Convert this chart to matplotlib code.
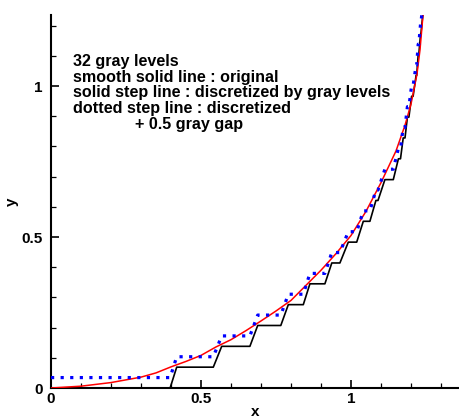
import numpy as np
import matplotlib
matplotlib.use("Agg")
import matplotlib.pyplot as plt
from matplotlib.ticker import MultipleLocator

plt.rcParams['font.family'] = ['Liberation Sans', 'DejaVu Sans']
plt.rcParams['font.weight'] = 'bold'

# original smooth curve
curve_x = [0.0, 0.1, 0.2, 0.3, 0.35, 0.4, 0.45, 0.5, 0.55, 0.6, 0.65, 0.7,
           0.75, 0.8, 0.85, 0.9, 0.95, 1.0, 1.05, 1.1, 1.15, 1.18, 1.2,
           1.22, 1.23, 1.24]
curve_y = [0.0, 0.006, 0.018, 0.036, 0.05, 0.07, 0.088, 0.108, 0.136, 0.16,
           0.19, 0.222, 0.255, 0.29, 0.34, 0.39, 0.445, 0.505, 0.585, 0.68,
           0.785, 0.87, 0.94, 1.04, 1.12, 1.235]

# gray level step and where each step k -> k+1 starts / ends
gray_step = 0.069
rise_start = [0.397, 0.541, 0.663, 0.766, 0.841, 0.913, 0.963, 1.019, 1.063,
              1.09, 1.141, 1.165, 1.18, 1.193, 1.207, 1.219, 1.226, 1.233]
rise_end = [0.419, 0.569, 0.689, 0.791, 0.863, 0.936, 0.991, 1.041, 1.083,
            1.113, 1.158, 1.174, 1.188, 1.202, 1.217, 1.224, 1.232, 1.24]

notes = ["32 gray levels",
         "smooth solid line : original",
         "solid step line : discretized by gray levels",
         "dotted step line : discretized",
         "+ 0.5 gray gap"]


def step_line(offset):
    xs = [0.0]
    ys = [offset]
    for k in range(len(rise_start)):
        xs += [rise_start[k], rise_end[k]]
        ys += [offset + k * gray_step, offset + (k + 1) * gray_step]
    return xs, ys


fig = plt.figure(figsize=(4.59, 4.19), dpi=100)
ax = fig.add_axes([51 / 459, 31 / 419, 408 / 459, 373 / 419])

bx, by = step_line(0.0)
dx, dy = step_line(0.5 * gray_step)
ax.plot(bx, by, color='black', lw=1.2, zorder=2)
ax.plot(curve_x, curve_y, color='#ff0000', lw=1.1, zorder=3)
ax.plot(dx, dy, color='#0000ff', lw=2.3, dashes=(1, 2), zorder=4)

ax.set_xlim(0, 1.36)
ax.set_ylim(0, 373 / 302)

for side in ['top', 'right']:
    ax.spines[side].set_visible(False)
for side in ['left', 'bottom']:
    ax.spines[side].set_linewidth(1.5)

ax.xaxis.set_minor_locator(MultipleLocator(0.1))
ax.yaxis.set_minor_locator(MultipleLocator(0.1))
ax.set_xticks([0, 0.5, 1])
ax.set_xticklabels(['0', '0.5', '1'])
ax.set_yticks([0, 0.5, 1])
ax.set_yticklabels(['0', '0.5', '1'])
ax.tick_params(which='major', direction='in', length=6, width=1.2,
               labelsize=11, pad=3)
ax.tick_params(which='minor', direction='in', length=3.5, width=0.9)
ax.tick_params(axis='y', pad=6)

ax.set_xlabel('x', fontsize=11, fontweight='bold', labelpad=-1)
ax.set_ylabel('y', fontsize=11, fontweight='bold', labelpad=2)

# annotation block
for i, line in enumerate(notes):
    x0 = 0.28 if i == 4 else 0.073
    ax.text(x0, 1.066 - i * 0.052, line, fontsize=11.6, fontweight='bold',
            va='baseline', ha='left')

fig.savefig('out.png', dpi=100)
